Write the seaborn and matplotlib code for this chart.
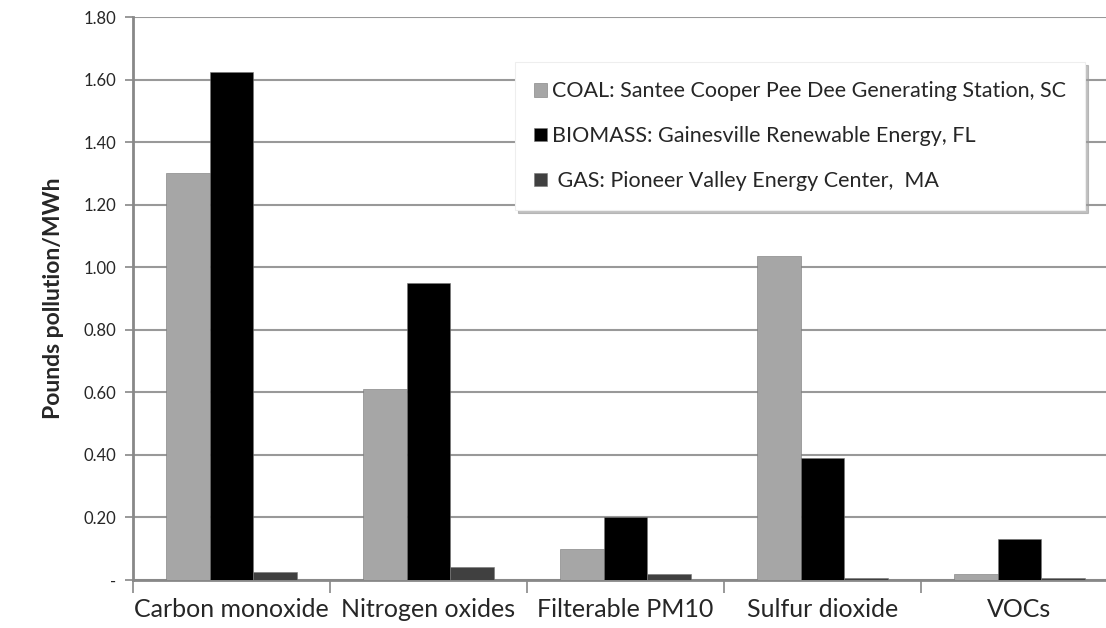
import matplotlib
matplotlib.use("Agg")
import matplotlib.pyplot as plt
from matplotlib.ticker import FuncFormatter, FixedLocator
import pandas as pd
import seaborn as sns

pollutants = ["Carbon monoxide", "Nitrogen oxides", "Filterable PM10",
              "Sulfur dioxide", "VOCs"]
plants = ["COAL: Santee Cooper Pee Dee Generating Station, SC",
          "BIOMASS: Gainesville Renewable Energy, FL",
          " GAS: Pioneer Valley Energy Center,  MA"]
coal = [1.30, 0.61, 0.10, 1.035, 0.02]
biomass = [1.625, 0.95, 0.20, 0.39, 0.13]
gas = [0.025, 0.043, 0.019, 0.006, 0.006]
colors = ["#a6a6a6", "#000000", "#404040"]

rows = []
for plant, vals in zip(plants, [coal, biomass, gas]):
    for p, v in zip(pollutants, vals):
        rows.append({"pollutant": p, "plant": plant, "value": v})
df = pd.DataFrame(rows)

sns.set_style("white")
plt.rcParams["font.family"] = ["Lato", "DejaVu Sans"]

fig = plt.figure(figsize=(11.06, 6.28), dpi=100)
ax = fig.add_axes([133 / 1106, 48 / 628, 985 / 1106, 563 / 628])

sns.barplot(data=df, x="pollutant", y="value", hue="plant",
            order=pollutants, hue_order=plants, palette=colors,
            width=0.67, edgecolor="#777777", linewidth=0.4,
            errorbar=None, ax=ax, zorder=3)

ax.set_ylim(0, 1.8)
ax.set_xlim(-0.5, 4.5)
ax.yaxis.set_major_locator(FixedLocator([i * 0.2 for i in range(10)]))
ax.yaxis.set_major_formatter(FuncFormatter(
    lambda v, _: "-" if abs(v) < 1e-9 else f"{v:.2f}"))
ax.grid(axis="y", color="#999999", linewidth=1.5, zorder=0)
ax.set_axisbelow(True)

ax.xaxis.set_minor_locator(FixedLocator([i - 0.5 for i in range(6)]))
ax.tick_params(axis="x", which="major", length=0, pad=13, labelsize=18)
ax.tick_params(axis="x", which="minor", length=9, width=1.2,
               color="#888888", direction="out", bottom=True)
ax.tick_params(axis="y", length=6, width=1.2, color="#888888",
               direction="out", left=True, pad=6, labelsize=12)

for side in ["top", "right"]:
    ax.spines[side].set_visible(False)
for side in ["left", "bottom"]:
    ax.spines[side].set_color("#888888")
    ax.spines[side].set_linewidth(2)

ax.set_xlabel("")
ax.set_ylabel("Pounds pollution/MWh", fontsize=16.5, fontweight="bold",
              labelpad=14)

leg = ax.legend(loc="upper right", bbox_to_anchor=(0.9665, 0.92),
                borderaxespad=0, frameon=True, fancybox=False,
                shadow={"color": "#999999", "alpha": 0.6},
                handlelength=0.6, handleheight=0.6, handletextpad=0.2,
                labelspacing=1.15, borderpad=0.9, fontsize=15.5)
leg.get_frame().set_edgecolor("#eeeeee")
leg.get_frame().set_linewidth(0.8)

fig.savefig("out.png", dpi=100)
